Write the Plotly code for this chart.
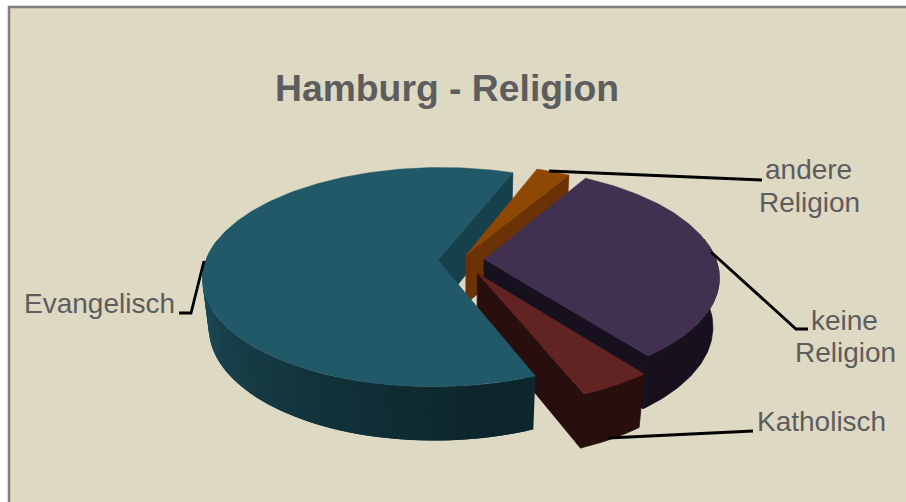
import math
import plotly.graph_objects as go

# Share of the population by religion, in percent
categories = ["Evangelisch", "andere Religion", "keine Religion", "Katholisch"]
shares = [61.9, 2.7, 31.1, 4.3]
explode = [0.10, 0.05, 0.10, 0.14]

top_colors = ["#215968", "#8f4804", "#413050", "#622423"]
wall_colors = ["#17404d", "#6b3305", "#17101f", "#280e0c"]

FIRST_ANGLE = 158.0
CX, CY = 461.0, 260.0
RX, RY = 232.0, 107.0
TILT, DEPTH, WALL = 0.155, 0.025, 50.0
TEXT = "#5d5d5d"


def project(u, v, low=0):
    d = 1 + TILT * v + DEPTH * low
    return CX + RX * u / d, CY + (-RY * v + WALL * low) / d


def mix(a, b, t):
    pa = [int(a[i:i + 2], 16) for i in (1, 3, 5)]
    pb = [int(b[i:i + 2], 16) for i in (1, 3, 5)]
    return "#%02x%02x%02x" % tuple(round(x + (y - x) * t) for x, y in zip(pa, pb))


def rim(theta, base):
    a = math.radians(theta)
    return base[0] + math.sin(a), base[1] + math.cos(a)


def poly(fig, pts, color, edge=0.0):
    fig.add_trace(go.Scatter(
        x=[p[0] for p in pts] + [pts[0][0]],
        y=[p[1] for p in pts] + [pts[0][1]],
        mode="lines", fill="toself", fillcolor=color,
        line=dict(color=color, width=edge), hoverinfo="skip", showlegend=False))


# Angular extent and displaced centre of every slice
slices = []
angle = FIRST_ANGLE
for share, e in zip(shares, explode):
    span = share * 3.6
    mid = math.radians(angle + span / 2)
    slices.append((angle, angle + span, (e * math.sin(mid), e * math.cos(mid))))
    angle += span


def visible_arc(a0, a1):
    # Only the part of the rim that faces the viewer, if any
    steps = [a0 + (a1 - a0) * k / 300 for k in range(301)]
    keep = [t for t in steps if math.cos(math.radians(t)) <= 0.2]
    return (keep[0], keep[-1]) if keep else None


def draw_top(fig, i):
    a0, a1, base = slices[i]
    n = max(4, int(a1 - a0))
    pts = [project(*base)]
    pts += [project(*rim(a0 + (a1 - a0) * k / n, base)) for k in range(n + 1)]
    poly(fig, pts, top_colors[i], 0.4)


def draw_end_face(fig, i):
    _, a1, base = slices[i]
    r = rim(a1, base)
    poly(fig, [project(*base), project(*r), project(*r, 1), project(*base, 1)],
         wall_colors[i], 0.8)


def wall_outline(t0, t1, base):
    n = max(2, int(t1 - t0))
    arc = [t0 + (t1 - t0) * k / n for k in range(n + 1)]
    return ([project(*rim(t, base)) for t in arc]
            + [project(*rim(t, base), 1) for t in reversed(arc)])


def draw_wall(fig, i):
    a0, a1, base = slices[i]
    arc = visible_arc(a0, a1)
    if arc:
        poly(fig, wall_outline(arc[0], arc[1], base), wall_colors[i], 0.8)


def evangelisch_shade(theta):
    # Light falls from the left, so the wall darkens towards the front right
    t = min(1.0, max(0.0, (270.0 - theta) / 100.0))
    return mix("#205361", "#0d262c", t ** 0.8)


def draw_shaded_wall(fig, i):
    # Each band runs on under the next one so no seam shows between them
    a0, a1, base = slices[i]
    t0, t1 = visible_arc(a0, a1)
    step = 2.0
    t = t1 - step
    while t > t0:
        poly(fig, wall_outline(t, min(t + 2 * step, t1), base), evangelisch_shade(t + step / 2))
        t -= step
    poly(fig, wall_outline(t0, t + 2 * step, base), evangelisch_shade(t0))


fig = go.Figure()

draw_end_face(fig, 0)
for i in (1, 2, 3):
    draw_wall(fig, i)
    draw_end_face(fig, i)
    draw_top(fig, i)
draw_shaded_wall(fig, 0)
draw_top(fig, 0)

# Leader lines from the slices to their labels
leaders = [
    [(549, 171), (755, 180), (762, 180)],
    [(711, 252), (796, 329), (808, 329)],
    [(608, 438), (753, 431)],
    [(204, 261), (191, 313), (179, 313)],
]
for path in leaders:
    fig.add_trace(go.Scatter(
        x=[p[0] for p in path], y=[p[1] for p in path], mode="lines",
        line=dict(color="#000000", width=2.8), hoverinfo="skip", showlegend=False))

labels = [
    ("andere", 808, 169), ("Religion", 809, 202),
    ("keine", 844, 320), ("Religion", 845, 352),
    ("Katholisch", 821, 421), ("Evangelisch", 99, 303),
]
annotations = [
    dict(x=x, y=y, text=t, showarrow=False, xref="x", yref="y",
         xanchor="center", yanchor="middle",
         font=dict(family="Liberation Sans", size=28, color=TEXT))
    for t, x, y in labels
]
annotations.append(dict(
    x=447, y=88, text="<b>Hamburg - Religion</b>", showarrow=False, xref="x", yref="y",
    xanchor="center", yanchor="middle",
    font=dict(family="Liberation Sans", size=37.3, color=TEXT)))

fig.update_layout(
    width=906, height=502, margin=dict(l=0, r=0, t=0, b=0),
    paper_bgcolor="#ffffff", plot_bgcolor="#ffffff",
    xaxis=dict(range=[0, 906], visible=False, fixedrange=True),
    yaxis=dict(range=[502, 0], visible=False, fixedrange=True),
    annotations=annotations,
    shapes=[dict(type="rect", x0=9, y0=7, x1=960, y1=560, xref="x", yref="y",
                 fillcolor="#ddd9c3", line=dict(color="#7f7f7f", width=2.5), layer="below")],
)

fig.write_html("out.html", config={"displayModeBar": False})
